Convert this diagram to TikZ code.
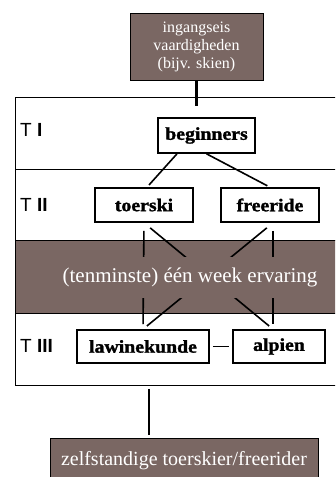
\documentclass[tikz,border=0pt]{standalone}
\usepackage{fontspec}
\setmainfont{Liberation Serif}
\newfontfamily\labelfont{Liberation Sans}
\newfontfamily\heavyfont[FakeStretch=1.1,FakeBold=1.5]{Liberation Serif Bold}
\usepackage{tikz}
\usepackage{xcolor}
\definecolor{mudbrown}{RGB}{122,103,99}
\tikzset{
    level-box/.style = {draw=black, fill=white, line width=1.6pt, rectangle, inner sep=0pt, font=\heavyfont\fontsize{18}{20}\selectfont},
    brown-box/.style = {draw=black, fill=mudbrown, line width=1pt, rectangle, inner sep=0pt, text=white, align=center},
    tier-label/.style = {anchor=west, inner sep=0pt, font=\labelfont\fontsize{19}{21}\selectfont},
    link/.style = {draw=black, line width=1.6pt},
}

\begin{document}
\begin{tikzpicture}[x=1pt, y=-1pt]
\useasboundingbox (0,0) rectangle (335,477);
\clip (0,0) rectangle (335,477);
% frame with the three tiers
\draw[line width=1pt] (15,97) rectangle (345,385);
\draw[line width=1pt] (15,169) -- (345,169);
% experience band under the links
\draw[fill=mudbrown, line width=1pt] (15,240) rectangle (345,313);

\node[brown-box, minimum width=133pt, minimum height=67pt, font=\fontsize{16}{18}\selectfont] (ingang) at (196.5,46.5) {ingangseis\\vaardigheden\\(bijv. skien)};
\node[level-box, minimum width=97pt, minimum height=35pt] (beginners) at (206.5,135.5) {beginners};
\node[level-box, minimum width=98pt, minimum height=34pt] (toerski) at (144,205) {toerski};
\node[level-box, minimum width=98pt, minimum height=34pt] (freeride) at (270,205) {freeride};
\node[level-box, minimum width=132pt, minimum height=33pt] (lawinekunde) at (143,346.5) {lawinekunde};
\node[level-box, minimum width=92pt, minimum height=33pt] (alpien) at (279,346.5) {alpien};
\node[brown-box, minimum width=268pt, minimum height=46pt, font=\fontsize{20}{22}\selectfont] (zelf) at (184,461) {zelfstandige toerskier/freerider};

\node[tier-label] (t1) at (20,130) {T \textbf{I}};
\node[tier-label] (t2) at (20,205) {T \textbf{II}};
\node[tier-label] (t3) at (20,346) {T \textbf{III}};

% connectors
\draw[link, line width=2.6pt, shorten >=11pt] (ingang.south) -- (ingang.south |- beginners.north);
\draw[link, shorten >=3pt] ([xshift=-29.5pt]beginners.south) -- ([xshift=3pt]toerski.north);
\draw[link, shorten >=3pt] (beginners.south) -- (freeride.north);
\draw[link, shorten <=8pt, shorten >=5pt] (toerski.south) -- (lawinekunde.north);
\draw[link, shorten <=8pt, shorten >=5pt] (toerski.south) -- ([xshift=-6pt]alpien.north);
\draw[link, shorten <=8pt, shorten >=5pt] ([xshift=3pt]freeride.south) -- (lawinekunde.north);
\draw[link, shorten <=8pt, shorten >=5pt] ([xshift=3pt]freeride.south) -- ([xshift=-6pt]alpien.north);
\draw[link, shorten <=3pt, shorten >=3pt] (lawinekunde.east) -- (alpien.west);
\draw[link, shorten <=25pt, shorten >=3pt] ([xshift=6pt]lawinekunde.south) -- ([xshift=6pt]zelf.north -| lawinekunde.south);

% band text hides the middle of the links
\node[fill=mudbrown, text=white, inner xsep=2pt, minimum height=41pt, font=\fontsize{21}{23}\selectfont] (ervaring) at (190,277.5) {(tenminste) één week ervaring};
\end{tikzpicture}
\end{document}
